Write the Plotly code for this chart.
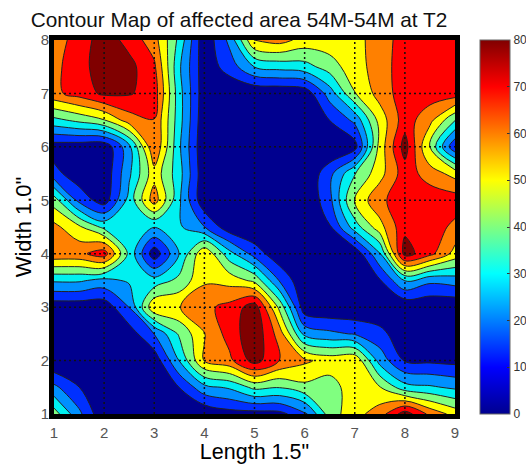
import plotly.graph_objects as go

x_vals = [1, 1.5, 2, 2.5, 3, 3.5, 4, 4.5, 5, 5.5, 6, 6.5, 7, 7.5, 8, 8.5, 9]
y_vals = [1, 1.5, 2, 2.5, 3, 3.5, 4, 4.5, 5, 5.5, 6, 6.5, 7, 7.5, 8]
z_y10 = [40, 20, 1, 0, 0, 0, 1, 5, 5, 6, 15, 40, 50, 58, 76, 60, 50]
z_y15 = [20, 9, 1, 1, 1, 9, 24, 28, 38, 36, 42, 40, 50, 45, 30, 28, 25]
z_y20 = [0, 0, 0, 0, 3, 27, 54, 60, 75, 62, 55, 50, 52, 23, 8, 7, 6]
z_y25 = [1, 1, 1, 4, 18, 37, 53, 66, 78, 58, 24, 20, 17, 12, 2, 1, 1]
z_y30 = [3, 3, 3, 18, 52, 53, 60, 65, 76, 42, 3, 1, 1, 1, 1, 1, 1]
z_y35 = [28, 28, 24, 28, 30, 38, 52, 50, 42, 17, 1, 0, 0, 8, 27, 20, 22]
z_y40 = [60, 60, 67, 33, 3, 27, 52, 30, 14, 2, 0, 0, 2, 26, 75, 65, 50]
z_y45 = [56, 46, 33, 30, 27, 28, 18, 3, 0, 0, 0, 8, 31, 50, 69, 67, 60]
z_y50 = [40, 15, 4, 30, 58, 28, 2, 0, 0, 0, 0, 15, 46, 60, 68, 68, 67]
z_y55 = [12, 3, 2, 25, 50, 30, 2, 0, 0, 0, 0, 15, 35, 50, 67, 58, 50]
z_y60 = [4, 3, 2, 24, 62, 28, 1, 0, 0, 0, 0, 0, 5, 48, 75, 43, 10]
z_y65 = [33, 38, 44, 58, 62, 30, 2, 0, 0, 0, 0, 9, 20, 48, 67, 56, 36]
z_y70 = [60, 66, 73, 72, 67, 30, 3, 1, 1, 1, 3, 22, 44, 57, 67, 67, 67]
z_y75 = [60, 67, 77, 74, 64, 28, 3, 13, 27, 30, 32, 40, 50, 57, 68, 68, 68]
z_y80 = [58, 66, 76, 68, 57, 33, 2, 20, 54, 57, 50, 50, 50, 58, 66, 68, 68]
z_rows = [z_y10, z_y15, z_y20, z_y25, z_y30, z_y35, z_y40, z_y45,
          z_y50, z_y55, z_y60, z_y65, z_y70, z_y75, z_y80]
band_colors = ["#00008f", "#0030ff", "#0090ff", "#00f0f0", "#80ff80",
               "#ffff00", "#ff8000", "#ff0000", "#800000"]
jet = [[0, "#00008f"], [0.125, "#0000ff"], [0.375, "#00ffff"], [0.625, "#ffff00"],
       [0.875, "#ff0000"], [1, "#800000"]]
x_ticks = [1, 2, 3, 4, 5, 6, 7, 8, 9]
y_ticks = [1, 2, 3, 4, 5, 6, 7, 8]
cbar_ticks = [0, 10, 20, 30, 40, 50, 60, 70, 80]

fig = go.Figure()
fig.add_trace(go.Contour(
    x=x_vals, y=y_vals, z=z_rows,
    autocontour=False,
    contours=dict(start=8.89, end=71.2, size=8.89, coloring="fill"),
    colorscale=[[i / 8, c] for i, c in enumerate(band_colors)],
    line=dict(color="#222222", width=1, smoothing=1),
    showscale=False,
))
for v in x_ticks[1:-1]:
    fig.add_trace(go.Scatter(x=[v, v], y=[y_ticks[0], y_ticks[-1]], mode="lines", showlegend=False,
                             line=dict(color="#111111", width=1.5, dash="2px,3px")))
for v in y_ticks[1:-1]:
    fig.add_trace(go.Scatter(x=[x_ticks[0], x_ticks[-1]], y=[v, v], mode="lines", showlegend=False,
                             line=dict(color="#111111", width=1.5, dash="2px,3px")))
fig.add_trace(go.Scatter(
    x=[None], y=[None], mode="markers", showlegend=False,
    marker=dict(color=[0, 80], cmin=0, cmax=80, colorscale=jet, showscale=True,
                colorbar=dict(xref="container", x=480 / 526, xanchor="left", xpad=0, ypad=0,
                              y=0.5, yanchor="middle", len=1, lenmode="fraction",
                              thickness=30, thicknessmode="pixels",
                              tickvals=cbar_ticks, ticks="inside", ticklen=3,
                              tickcolor="#333333", outlinecolor="#666666", outlinewidth=1,
                              tickfont=dict(family="Liberation Sans", size=12, color="#333333"))),
))
fig.update_layout(
    width=526, height=464, autosize=False, showlegend=False,
    margin=dict(l=54, r=71, t=40, b=50),
    paper_bgcolor="white", plot_bgcolor="white",
    font=dict(family="Liberation Sans", color="black"),
    title=dict(text="Contour Map of affected area 54M-54M at T2", x=239 / 526, xanchor="center",
               y=1 - 20 / 464, yanchor="middle", font=dict(size=20.8, color="#111111")),
    xaxis=dict(range=[1, 9], tickvals=x_ticks, showgrid=False, zeroline=False, ticks="",
               showline=True, mirror=True, linecolor="black", linewidth=5, ticklabelstandoff=1,
               automargin=False,
               title=dict(text='Length 1.5"', font=dict(size=21.5), standoff=2),
               tickfont=dict(size=15, color="#555555")),
    yaxis=dict(range=[1, 8], tickvals=y_ticks, showgrid=False, zeroline=False, ticks="",
               showline=True, mirror=True, linecolor="black", linewidth=5, ticklabelstandoff=-3,
               automargin=False,
               title=dict(text='Width 1.0"', font=dict(size=22), standoff=4),
               tickfont=dict(size=15, color="#555555")),
)
fig.write_html("out.html", config={"displayModeBar": False},
               post_script="document.body.style.margin='0';")
